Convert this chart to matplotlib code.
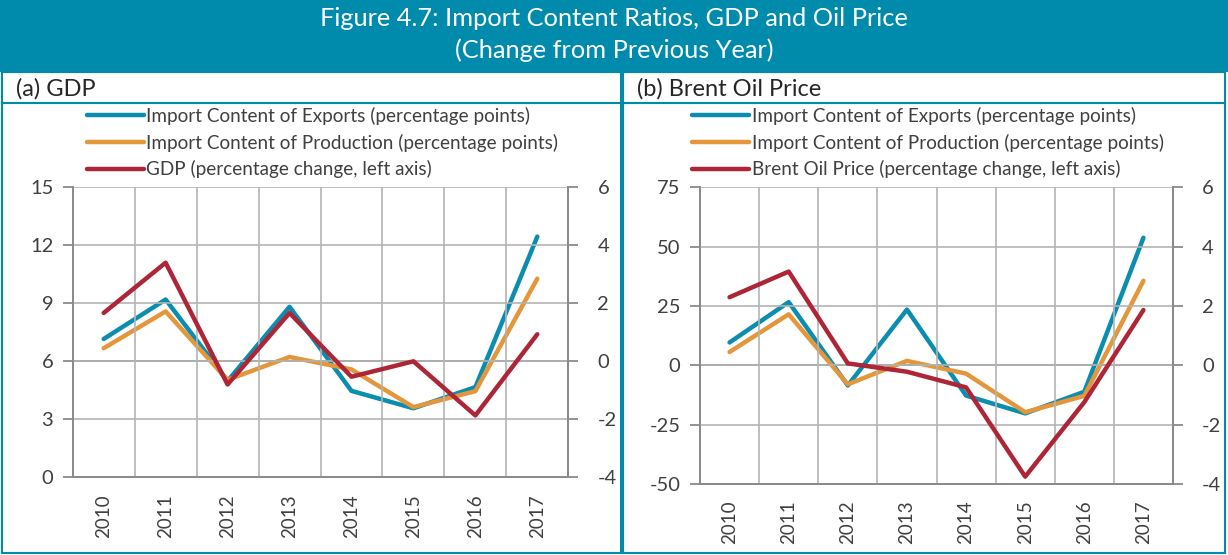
import matplotlib
matplotlib.use("Agg")
import matplotlib.pyplot as plt
from matplotlib.patches import Rectangle
from matplotlib.lines import Line2D

years = ["2010", "2011", "2012", "2013", "2014", "2015", "2016", "2017"]

# right axis series (percentage points), same in both panels
exports = [0.77, 2.13, -0.68, 1.88, -1.02, -1.62, -0.89, 4.30]
production = [0.45, 1.72, -0.64, 0.15, -0.28, -1.58, -1.03, 2.85]

# left axis series (percentage change)
gdp = [8.5, 11.1, 4.8, 8.5, 5.2, 6.0, 3.2, 7.4]
brent = [28.7, 39.5, 0.8, -2.7, -9.3, -46.9, -15.5, 23.3]

TEAL = "#0A8DAF"
ORANGE = "#E3963A"
RED = "#AE2538"
GRID = "#B4B4B4"
AXIS = "#8A8A8A"
TEXT = "#404040"
BAND = "#008BAD"

plt.rcParams["font.family"] = ["Lato", "DejaVu Sans"]
plt.rcParams["axes.unicode_minus"] = False

W, H = 1228, 555
fig = plt.figure(figsize=(W / 100, H / 100), dpi=100)


def fx(px):
    return px / W


def fy(py):
    return 1 - py / H


# title band
fig.patches.append(Rectangle((0, fy(72)), 1, 72 / H, transform=fig.transFigure,
                             facecolor=BAND, edgecolor="none", zorder=0))
fig.text(0.5, fy(19), "Figure 4.7: Import Content Ratios, GDP and Oil Price",
         ha="center", va="center", color="white", fontsize=18.3)
fig.text(0.5, fy(50), "(Change from Previous Year)",
         ha="center", va="center", color="white", fontsize=18.3)

# panel frames
for x0, x1 in [(2, 621), (623, 1225)]:
    fig.patches.append(Rectangle((fx(x0), fy(553)), fx(x1 - x0), (553 - 72) / H,
                                 transform=fig.transFigure, facecolor="none",
                                 edgecolor=BAND, linewidth=1.5, zorder=1))
    fig.lines.append(Line2D([fx(x0), fx(x1)], [fy(103), fy(103)],
                            transform=fig.transFigure, color=BAND, linewidth=1.5))

fig.text(fx(16), fy(89), "(a) GDP", ha="left", va="center", color="#262626", fontsize=17)
fig.text(fx(637), fy(89), "(b) Brent Oil Price", ha="left", va="center",
         color="#262626", fontsize=17)


def panel(rect, left_vals, left_label, left_lim, left_ticks, legend_x):
    ax = fig.add_axes(rect)
    ax2 = ax.twinx()
    x = list(range(len(years)))

    l1, = ax2.plot(x, exports, color=TEAL, linewidth=3.2, solid_capstyle="round",
                   label="Import Content of Exports (percentage points)")
    l2, = ax2.plot(x, production, color=ORANGE, linewidth=3.2, solid_capstyle="round",
                   label="Import Content of Production (percentage points)")
    l3, = ax.plot(x, left_vals, color=RED, linewidth=3.2, solid_capstyle="round",
                  label=left_label)
    # secondary horizontal axis crossing at zero
    ax2.axhline(0, color=AXIS, linewidth=1.3, zorder=1)

    ax.set_zorder(ax2.get_zorder() + 1)
    ax.patch.set_visible(False)

    ax.set_xlim(-0.5, len(years) - 0.5)
    ax.set_ylim(*left_lim)
    ax.set_yticks(left_ticks)
    ax2.set_ylim(-4, 6)
    ax2.set_yticks([-4, -2, 0, 2, 4, 6])

    ax.set_xticks(x)
    ax.set_xticklabels(years, rotation=90)
    ax.set_xticks([i + 0.5 for i in x[:-1]], minor=True)
    ax.grid(True, which="minor", axis="x", color=GRID, linewidth=1.2)
    ax.grid(True, which="major", axis="y", color=GRID, linewidth=1.2)
    ax.tick_params(axis="x", which="both", length=0, labelsize=13.5, colors=TEXT, pad=12)
    ax.tick_params(axis="y", length=7, width=1.3, color=AXIS, labelsize=14.5,
                   labelcolor=TEXT, pad=7)
    ax2.tick_params(axis="y", length=7, width=1.3, color=AXIS, labelsize=14.5,
                    labelcolor=TEXT, pad=14)

    for a in (ax, ax2):
        for s in a.spines.values():
            s.set_color(AXIS)
            s.set_linewidth(1.3)
        a.spines["top"].set_visible(False)

    ax.legend(handles=[l1, l2, l3], loc="upper left",
              bbox_to_anchor=(fx(legend_x), fy(107)), bbox_transform=fig.transFigure,
              frameon=False, borderpad=0, borderaxespad=0, fontsize=13.6,
              handlelength=3.0, handletextpad=0.15, labelspacing=0.45,
              labelcolor=TEXT)
    return ax


panel([fx(72.7), fy(477.3), fx(495.6), 290 / H], gdp,
      "GDP (percentage change, left axis)", (0, 15), [0, 3, 6, 9, 12, 15], 87)
panel([fx(700), fy(484), fx(473), 296.7 / H], brent,
      "Brent Oil Price (percentage change, left axis)", (-50, 75),
      [-50, -25, 0, 25, 50, 75], 692)

fig.savefig("out.png", dpi=100)
